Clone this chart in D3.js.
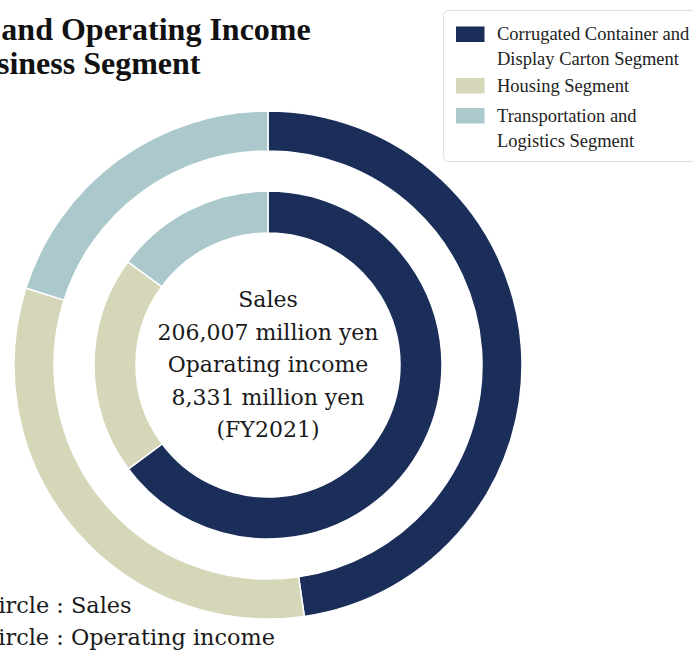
<!DOCTYPE html>
<html>
<head>
<meta charset="utf-8">
<script src="https://cdn.jsdelivr.net/npm/d3@7"></script>
<style>
  html, body { margin: 0; padding: 0; background: #ffffff; overflow: hidden; }
  svg { display: block; }
</style>
</head>
<body>
<svg id="chart" width="693" height="659"></svg>
<script>
// Segments (million yen, FY2021)
const segments = [
  "Corrugated Container and Display Carton Segment",
  "Housing Segment",
  "Transportation and Logistics Segment"
];
const salesValues = [98300, 66300, 41407];     // outer circle, total 206,007
const incomeValues = [5400, 1690, 1241];       // inner circle, total 8,331
const segmentColors = ["#1b2e5a", "#d6d7b8", "#abc9cd"];

const legendLines = [
  ["Corrugated Container and", "Display Carton Segment"],
  ["Housing Segment"],
  ["Transportation and", "Logistics Segment"]
];
const titleLines = ["Sales and Operating Income", "by Business Segment"];
const centerLines = [
  "Sales",
  d3.format(",")(d3.sum(salesValues)) + " million yen",
  "Oparating income",
  d3.format(",")(d3.sum(incomeValues)) + " million yen",
  "(FY2021)"
];
const noteLines = ["Outer circle : Sales", "Inner circle : Operating income"];

const svg = d3.select("#chart");
const cx = 268, cy = 365;

const pie = d3.pie().sort(null).value(d => d);
const outerArc = d3.arc().innerRadius(214).outerRadius(254);
const innerArc = d3.arc().innerRadius(132).outerRadius(174);

const rings = svg.append("g").attr("transform", `translate(${cx},${cy})`);

function drawRing(values, arc, cls) {
  rings.append("g").attr("class", cls)
    .selectAll("path")
    .data(pie(values))
    .join("path")
    .attr("d", arc)
    .attr("fill", (d, i) => segmentColors[i])
    .attr("stroke", "#ffffff")
    .attr("stroke-width", 1.5);
}
drawRing(salesValues, outerArc, "sales");
drawRing(incomeValues, innerArc, "income");

// Centre caption
svg.append("g")
  .selectAll("text")
  .data(centerLines)
  .join("text")
  .attr("x", cx)
  .attr("y", (d, i) => 307 + i * 32.5)
  .attr("text-anchor", "middle")
  .attr("font-family", "'DejaVu Serif', serif")
  .attr("font-size", 22)
  .attr("fill", "#1a1a1a")
  .text(d => d);

// Title (runs off the left edge of the frame)
const titleX = [-76, -84];
svg.append("g")
  .selectAll("text")
  .data(titleLines)
  .join("text")
  .attr("x", (d, i) => titleX[i])
  .attr("y", (d, i) => 40 + i * 34)
  .attr("font-family", "'Liberation Serif', serif")
  .attr("font-weight", "bold")
  .attr("font-size", 32)
  .attr("fill", "#111111")
  .text(d => d);

// Notes at lower left
const noteX = [-87, -83];
svg.append("g")
  .selectAll("text")
  .data(noteLines)
  .join("text")
  .attr("x", (d, i) => noteX[i])
  .attr("y", (d, i) => 613 + i * 32)
  .attr("font-family", "'DejaVu Serif', serif")
  .attr("font-size", 22.4)
  .attr("fill", "#1a1a1a")
  .text(d => d);

// Legend
const legend = svg.append("g");
legend.append("rect")
  .attr("x", 443.5).attr("y", 10.5)
  .attr("width", 270).attr("height", 151)
  .attr("rx", 5)
  .attr("fill", "#ffffff")
  .attr("stroke", "#dedede")
  .attr("stroke-width", 1);

const itemTop = [40, 91.5, 121.5];
const lineGap = 25;
const items = legend.selectAll("g.item")
  .data(segments)
  .join("g")
  .attr("class", "item");

items.append("rect")
  .attr("x", 456).attr("y", (d, i) => itemTop[i] - 13.5)
  .attr("width", 28.5).attr("height", 15.5)
  .attr("fill", (d, i) => segmentColors[i]);

items.each(function (d, i) {
  d3.select(this).selectAll("text")
    .data(legendLines[i])
    .join("text")
    .attr("x", 497)
    .attr("y", (t, j) => itemTop[i] + j * lineGap)
    .attr("font-family", "'Liberation Serif', serif")
    .attr("font-size", 18.5)
    .attr("fill", "#222222")
    .text(t => t);
});
</script>
</body>
</html>
